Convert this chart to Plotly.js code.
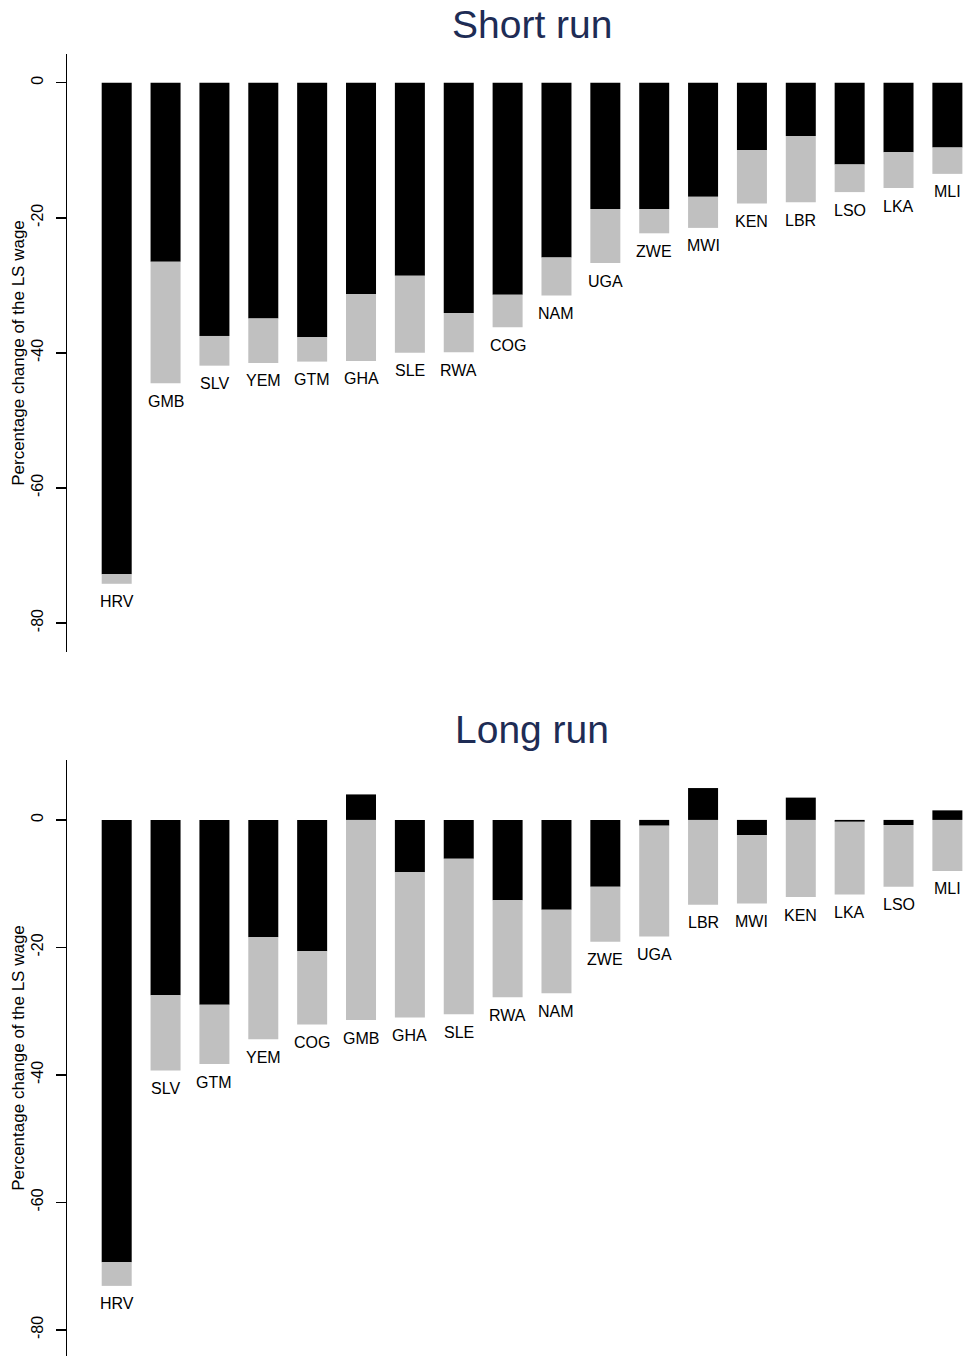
<!DOCTYPE html>
<html>
<head>
<meta charset="utf-8">
<script src="https://cdn.plot.ly/plotly-3.0.1.min.js"></script>
<style>
html,body{margin:0;padding:0;background:#fff;}
#chart{width:964px;height:1356px;}
</style>
</head>
<body>
<div id="chart"></div>
<script>
// ---- Data ----
const shortCountries = ["HRV","GMB","SLV","YEM","GTM","GHA","SLE","RWA","COG","NAM","UGA","ZWE","MWI","KEN","LBR","LSO","LKA","MLI"];
const shortBlack = [-72.8,-26.5,-37.5,-34.9,-37.7,-31.3,-28.6,-34.1,-31.4,-25.9,-18.7,-18.7,-16.9,-10.0,-7.9,-12.1,-10.3,-9.6];
const shortGrey  = [-1.4,-18.0,-4.4,-6.6,-3.6,-9.9,-11.4,-5.8,-4.8,-5.6,-8.0,-3.6,-4.6,-7.9,-9.8,-4.1,-5.3,-3.9];

const longCountries = ["HRV","SLV","GTM","YEM","COG","GMB","GHA","SLE","RWA","NAM","ZWE","UGA","LBR","MWI","KEN","LKA","LSO","MLI"];
const longBlack = [-69.4,-27.5,-29.0,-18.4,-20.6,4.0,-8.2,-6.1,-12.6,-14.1,-10.5,-0.9,5.0,-2.4,3.5,-0.3,-0.8,1.5];
const longGrey  = [-3.7,-11.8,-9.3,-16.0,-11.5,-31.4,-22.8,-24.4,-15.2,-13.1,-8.6,-17.4,-13.3,-10.7,-12.1,-11.4,-9.7,-8.0];

const tickVals = [0,-20,-40,-60,-80];
const tickText = ["0","-20","-40","-60","-80"];

const panelTitles = ["Short run","Long run"];
const yTitle = "Percentage change of the LS wage";

// ---- Build ----
const FONT = "Liberation Sans, Arial, Helvetica, sans-serif";
const BLACK = "#000000", GREY = "#c0c0c0";
const W = 964, H = 1356;
const py = px => 1 - px / H;

function bars(countries, vals, color, xa, ya) {
  return {type:"bar", x:countries, y:vals, xaxis:xa, yaxis:ya,
          marker:{color:color, line:{width:0}}, width:0.614, hoverinfo:"skip"};
}

const traces = [
  bars(shortCountries, shortBlack, BLACK, "x", "y"),
  bars(shortCountries, shortGrey, GREY, "x", "y"),
  bars(longCountries, longBlack, BLACK, "x2", "y2"),
  bars(longCountries, longGrey, GREY, "x2", "y2")
];

function negSum(a, b, i) {
  return Math.min(a[i],0) + Math.min(b[i],0);
}

const annotations = [];
shortCountries.forEach((c,i)=>{
  annotations.push({xref:"x", yref:"y", x:c, y:negSum(shortBlack, shortGrey, i),
    yshift:-18, yanchor:"middle", showarrow:false, text:c,
    font:{family:FONT, size:16, color:"#000"}});
});
longCountries.forEach((c,i)=>{
  annotations.push({xref:"x2", yref:"y2", x:c, y:negSum(longBlack, longGrey, i),
    yshift:-18, yanchor:"middle", showarrow:false, text:c,
    font:{family:FONT, size:16, color:"#000"}});
});
const titleX = (532 - 67) / (W - 67);
annotations.push({xref:"paper", yref:"paper", x:titleX, y:py(24), xanchor:"center", yanchor:"middle",
  showarrow:false, text:panelTitles[0], font:{family:FONT, size:39, color:"#1e2c55"}});
annotations.push({xref:"paper", yref:"paper", x:titleX, y:py(729), xanchor:"center", yanchor:"middle",
  showarrow:false, text:panelTitles[1], font:{family:FONT, size:39, color:"#1e2c55"}});

function xaxisDef(countries, anchor) {
  return {anchor:anchor, type:"category", categoryorder:"array", categoryarray:countries,
    range:[-1.017, 17.34], showticklabels:false, showline:false, showgrid:false,
    zeroline:false, ticks:"", fixedrange:true};
}
function yaxisDef(domain, range, anchor) {
  return {anchor:anchor, domain:domain, range:range, tickvals:tickVals, ticktext:tickText,
    tickangle:-90, ticks:"outside", ticklen:10, tickwidth:1.5, tickcolor:"#000",
    showline:true, linecolor:"#000", linewidth:1.5, showgrid:false, zeroline:false,
    ticklabelstandoff:6,
    tickfont:{family:FONT, size:16, color:"#000"},
    title:{text:yTitle, font:{family:FONT, size:17, color:"#000"}, standoff:0},
    fixedrange:true};
}

const layout = {
  width:W, height:H, margin:{l:67, r:0, t:0, b:0, pad:0},
  paper_bgcolor:"#fff", plot_bgcolor:"#fff",
  barmode:"relative", showlegend:false,
  font:{family:FONT, color:"#000"},
  xaxis: xaxisDef(shortCountries, "y"),
  yaxis: yaxisDef([py(652), py(54)], [-84.3, 4.25], "x"),
  xaxis2: xaxisDef(longCountries, "y2"),
  yaxis2: yaxisDef([0, py(760)], [-84.1, 9.4], "x2"),
  annotations: annotations
};

Plotly.newPlot("chart", traces, layout, {displayModeBar:false, staticPlot:true});
</script>
</body>
</html>
